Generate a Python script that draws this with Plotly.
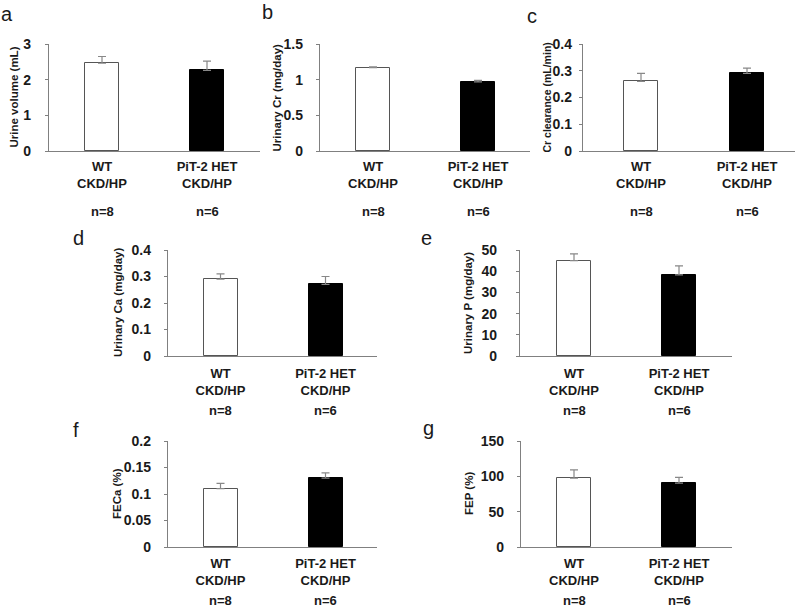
import plotly.graph_objects as go

W, H = 800, 608

categories = ["WT<br>CKD/HP", "PiT-2 HET<br>CKD/HP"]
n_labels = ["n=8", "n=6"]

panel_letters = ["a", "b", "c", "d", "e", "f", "g"]
y_titles = ["Urine volume (mL)", "Urinary Cr (mg/day)", "Cr clearance (mL/min)",
            "Urinary Ca (mg/day)", "Urinary P (mg/day)", "FECa (%)", "FEP (%)"]
means = [[2.46, 2.26], [1.17, 0.97], [0.26, 0.29], [0.29, 0.27],
         [45, 38.3], [0.11, 0.13], [97.5, 90.5]]
errors = [[0.19, 0.26], [0.01, 0.02], [0.03, 0.02], [0.02, 0.03],
          [3.2, 4.2], [0.01, 0.01], [11.5, 8.0]]
y_max = [3, 1.5, 0.4, 0.4, 50, 0.2, 150]
y_step = [1, 0.5, 0.1, 0.1, 10, 0.05, 50]

# geometry in pixels: axis left, axis right, first bar centre, second bar centre, top, bottom
geom = [
    (49, 260, 102, 207, 44, 151),
    (320, 530, 373, 478, 44, 151),
    (583, 795, 641, 747, 44, 151),
    (168, 377, 220.5, 325.5, 250, 356),
    (520, 732, 574, 679, 250, 356),
    (168, 377, 220.5, 325.5, 441, 547),
    (521, 732, 574, 679, 441, 547),
]
n_offset = [60, 60, 60, 54, 54, 53, 53]
y_standoff = [11, 10, 4, 10, 16, 10, 10]
x_standoff = [3, 3, 3, 5, 5, 4, 4]
title_size = [11.5, 11.5, 10.5, 11.5, 11.5, 11.5, 11.5]
letter_pos = [(7, 14), (267, 12), (532, 16), (78, 238), (427, 238), (76, 430), (428, 428)]
title_x = [13, 276, 546, 118, 468, 117, 469]

font_fam = "Liberation Sans, Arial, sans-serif"
txt = "#1a1a1a"

fig = go.Figure()
annotations = []
for i in range(7):
    xl, xr, c0, c1, yt, yb = geom[i]
    sp = c1 - c0
    rng = [(xl - c0) / sp, (xr - c0) / sp]
    ax = "" if i == 0 else str(i + 1)
    fig.add_trace(go.Bar(
        x=[0, 1], y=means[i], width=34 / sp,
        marker=dict(color=["white", "black"], line=dict(color=["#555555", "black"], width=1)),
        error_y=dict(type="data", array=errors[i], arrayminus=[0, 0], symmetric=False,
                     color="#888888", thickness=1.2, width=4),
        xaxis="x" + ax, yaxis="y" + ax, showlegend=False, hoverinfo="skip"))
    fig.update_layout(**{
        "xaxis" + ax: dict(domain=[xl / W, xr / W], range=rng, anchor="y" + ax,
                           tickvals=[0, 1],
                           ticktext=["<b>" + c.replace("<br>", "</b><br><b>") + "</b>" for c in categories],
                           ticks="", automargin=False, fixedrange=True,
                           ticklabelstandoff=x_standoff[i],
                           showline=True, linecolor="#808080", linewidth=1.3,
                           showgrid=False, zeroline=False,
                           tickfont=dict(family=font_fam, size=13, color=txt)),
        "yaxis" + ax: dict(domain=[1 - yb / H, 1 - yt / H], range=[0, y_max[i]],
                           anchor="x" + ax, dtick=y_step[i], tick0=0, automargin=False,
                           fixedrange=True,
                           ticks="outside", ticklen=3, tickcolor="#808080",
                           ticklabelstandoff=y_standoff[i],
                           showline=True, linecolor="#808080", linewidth=1.3,
                           showgrid=False, zeroline=False,
                           tickfont=dict(family=font_fam, size=14, color=txt, weight="bold")),
    })
    for k in range(2):
        annotations.append(dict(x=k, y=1 - (yb + n_offset[i]) / H, xref="x" + ax, yref="paper",
                                text="<b>" + n_labels[k] + "</b>", showarrow=False,
                                font=dict(family=font_fam, size=13, color=txt),
                                xanchor="center", yanchor="middle"))
    annotations.append(dict(x=title_x[i] / W, y=1 - (yt + yb) / 2 / H, xref="paper", yref="paper",
                            text="<b>" + y_titles[i] + "</b>", textangle=-90, showarrow=False,
                            font=dict(family=font_fam, size=title_size[i], color=txt),
                            xanchor="center", yanchor="middle"))
    lx, ly = letter_pos[i]
    annotations.append(dict(x=lx / W, y=1 - ly / H, xref="paper", yref="paper",
                            text=panel_letters[i], showarrow=False,
                            font=dict(family=font_fam, size=20, color=txt),
                            xanchor="center", yanchor="middle"))

fig.update_layout(width=W, height=H, margin=dict(l=0, r=0, t=0, b=0),
                  paper_bgcolor="white", plot_bgcolor="white", template="none",
                  annotations=annotations, bargap=0, hovermode=False)

fig.write_html("out.html", config={"displayModeBar": False},
               post_script="document.body.style.margin='0';document.body.style.overflow='hidden';")
